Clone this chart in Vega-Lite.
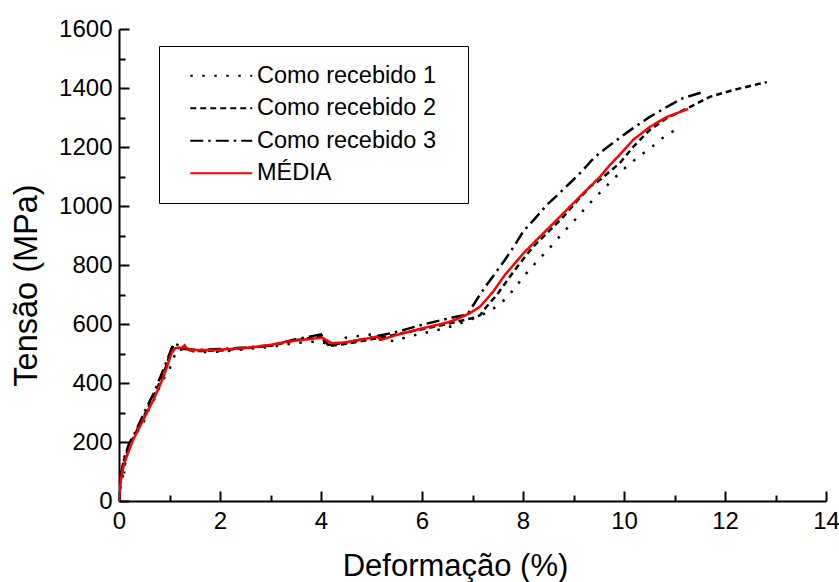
{
  "$schema": "https://vega.github.io/schema/vega-lite/v6.json",
  "width": 707,
  "height": 472,
  "autosize": {"type": "none"},
  "padding": {"left": 119, "top": 29, "right": 13, "bottom": 81},
  "background": "white",
  "config": {"view": {"stroke": null}, "font": "Liberation Sans"},
  "datasets": {
    "curves": [
      {"s": "Como recebido 1", "x": 0, "y": 0}, {"s": "Como recebido 1", "x": 0.03, "y": 50}, {"s": "Como recebido 1", "x": 0.09, "y": 94}, {"s": "Como recebido 1", "x": 0.18, "y": 184}, {"s": "Como recebido 1", "x": 0.34, "y": 229}, {"s": "Como recebido 1", "x": 0.48, "y": 263}, {"s": "Como recebido 1", "x": 0.61, "y": 320}, {"s": "Como recebido 1", "x": 0.73, "y": 354}, {"s": "Como recebido 1", "x": 0.84, "y": 404}, {"s": "Como recebido 1", "x": 0.98, "y": 438}, {"s": "Como recebido 1", "x": 1.08, "y": 484}, {"s": "Como recebido 1", "x": 1.15, "y": 515}, {"s": "Como recebido 1", "x": 1.3, "y": 512}, {"s": "Como recebido 1", "x": 1.6, "y": 505}, {"s": "Como recebido 1", "x": 2.0, "y": 506}, {"s": "Como recebido 1", "x": 2.5, "y": 515}, {"s": "Como recebido 1", "x": 3.0, "y": 522}, {"s": "Como recebido 1", "x": 3.45, "y": 535}, {"s": "Como recebido 1", "x": 3.8, "y": 540}, {"s": "Como recebido 1", "x": 4.0, "y": 540}, {"s": "Como recebido 1", "x": 4.2, "y": 527}, {"s": "Como recebido 1", "x": 4.48, "y": 553}, {"s": "Como recebido 1", "x": 4.74, "y": 559}, {"s": "Como recebido 1", "x": 5.0, "y": 565}, {"s": "Como recebido 1", "x": 5.2, "y": 545}, {"s": "Como recebido 1", "x": 5.45, "y": 542}, {"s": "Como recebido 1", "x": 5.7, "y": 556}, {"s": "Como recebido 1", "x": 5.96, "y": 566}, {"s": "Como recebido 1", "x": 6.22, "y": 576}, {"s": "Como recebido 1", "x": 6.48, "y": 587}, {"s": "Como recebido 1", "x": 6.73, "y": 600}, {"s": "Como recebido 1", "x": 6.99, "y": 617}, {"s": "Como recebido 1", "x": 7.25, "y": 636}, {"s": "Como recebido 1", "x": 7.51, "y": 662}, {"s": "Como recebido 1", "x": 7.71, "y": 695}, {"s": "Como recebido 1", "x": 7.91, "y": 738}, {"s": "Como recebido 1", "x": 8.12, "y": 783}, {"s": "Como recebido 1", "x": 8.35, "y": 825}, {"s": "Como recebido 1", "x": 8.58, "y": 868}, {"s": "Como recebido 1", "x": 8.81, "y": 913}, {"s": "Como recebido 1", "x": 9.04, "y": 955}, {"s": "Como recebido 1", "x": 9.27, "y": 1000}, {"s": "Como recebido 1", "x": 9.51, "y": 1043}, {"s": "Como recebido 1", "x": 9.77, "y": 1088}, {"s": "Como recebido 1", "x": 10.02, "y": 1129}, {"s": "Como recebido 1", "x": 10.28, "y": 1166}, {"s": "Como recebido 1", "x": 10.55, "y": 1200}, {"s": "Como recebido 1", "x": 10.79, "y": 1234}, {"s": "Como recebido 1", "x": 11.07, "y": 1264},

      {"s": "Como recebido 2", "x": 0, "y": 0}, {"s": "Como recebido 2", "x": 0.03, "y": 70}, {"s": "Como recebido 2", "x": 0.1, "y": 140}, {"s": "Como recebido 2", "x": 0.2, "y": 190}, {"s": "Como recebido 2", "x": 0.3, "y": 220}, {"s": "Como recebido 2", "x": 0.5, "y": 290}, {"s": "Como recebido 2", "x": 0.7, "y": 360}, {"s": "Como recebido 2", "x": 0.9, "y": 440}, {"s": "Como recebido 2", "x": 1.05, "y": 520}, {"s": "Como recebido 2", "x": 1.15, "y": 520}, {"s": "Como recebido 2", "x": 1.5, "y": 508}, {"s": "Como recebido 2", "x": 2.0, "y": 510}, {"s": "Como recebido 2", "x": 2.5, "y": 518}, {"s": "Como recebido 2", "x": 3.0, "y": 526}, {"s": "Como recebido 2", "x": 3.5, "y": 545}, {"s": "Como recebido 2", "x": 3.9, "y": 555}, {"s": "Como recebido 2", "x": 4.02, "y": 560}, {"s": "Como recebido 2", "x": 4.15, "y": 525}, {"s": "Como recebido 2", "x": 4.5, "y": 533}, {"s": "Como recebido 2", "x": 5.0, "y": 548}, {"s": "Como recebido 2", "x": 5.5, "y": 565}, {"s": "Como recebido 2", "x": 6.0, "y": 582}, {"s": "Como recebido 2", "x": 6.5, "y": 600}, {"s": "Como recebido 2", "x": 7.0, "y": 620}, {"s": "Como recebido 2", "x": 7.15, "y": 630}, {"s": "Como recebido 2", "x": 7.28, "y": 659}, {"s": "Como recebido 2", "x": 7.48, "y": 698}, {"s": "Como recebido 2", "x": 7.74, "y": 760}, {"s": "Como recebido 2", "x": 7.94, "y": 806}, {"s": "Como recebido 2", "x": 8.2, "y": 862}, {"s": "Como recebido 2", "x": 8.47, "y": 907}, {"s": "Como recebido 2", "x": 8.8, "y": 964}, {"s": "Como recebido 2", "x": 9.06, "y": 1015}, {"s": "Como recebido 2", "x": 9.33, "y": 1066}, {"s": "Como recebido 2", "x": 9.52, "y": 1088}, {"s": "Como recebido 2", "x": 9.92, "y": 1146}, {"s": "Como recebido 2", "x": 10.18, "y": 1200}, {"s": "Como recebido 2", "x": 10.51, "y": 1258}, {"s": "Como recebido 2", "x": 10.85, "y": 1298}, {"s": "Como recebido 2", "x": 11.31, "y": 1336}, {"s": "Como recebido 2", "x": 11.7, "y": 1370}, {"s": "Como recebido 2", "x": 12.16, "y": 1393}, {"s": "Como recebido 2", "x": 12.5, "y": 1407}, {"s": "Como recebido 2", "x": 12.83, "y": 1420},

      {"s": "Como recebido 3", "x": 0, "y": 0}, {"s": "Como recebido 3", "x": 0.03, "y": 80}, {"s": "Como recebido 3", "x": 0.1, "y": 145}, {"s": "Como recebido 3", "x": 0.2, "y": 195}, {"s": "Como recebido 3", "x": 0.3, "y": 225}, {"s": "Como recebido 3", "x": 0.5, "y": 300}, {"s": "Como recebido 3", "x": 0.7, "y": 370}, {"s": "Como recebido 3", "x": 0.9, "y": 455}, {"s": "Como recebido 3", "x": 1.05, "y": 520}, {"s": "Como recebido 3", "x": 1.1, "y": 535}, {"s": "Como recebido 3", "x": 1.3, "y": 515}, {"s": "Como recebido 3", "x": 1.6, "y": 512}, {"s": "Como recebido 3", "x": 2.0, "y": 515}, {"s": "Como recebido 3", "x": 2.5, "y": 520}, {"s": "Como recebido 3", "x": 3.0, "y": 528}, {"s": "Como recebido 3", "x": 3.5, "y": 548}, {"s": "Como recebido 3", "x": 3.8, "y": 558}, {"s": "Como recebido 3", "x": 4.0, "y": 565}, {"s": "Como recebido 3", "x": 4.1, "y": 528}, {"s": "Como recebido 3", "x": 4.5, "y": 537}, {"s": "Como recebido 3", "x": 5.0, "y": 555}, {"s": "Como recebido 3", "x": 5.47, "y": 572}, {"s": "Como recebido 3", "x": 6.06, "y": 600}, {"s": "Como recebido 3", "x": 6.65, "y": 624}, {"s": "Como recebido 3", "x": 6.9, "y": 632}, {"s": "Como recebido 3", "x": 7.0, "y": 660}, {"s": "Como recebido 3", "x": 7.15, "y": 700}, {"s": "Como recebido 3", "x": 7.28, "y": 732}, {"s": "Como recebido 3", "x": 7.45, "y": 772}, {"s": "Como recebido 3", "x": 7.64, "y": 817}, {"s": "Como recebido 3", "x": 7.84, "y": 868}, {"s": "Como recebido 3", "x": 8.01, "y": 915}, {"s": "Como recebido 3", "x": 8.24, "y": 958}, {"s": "Como recebido 3", "x": 8.47, "y": 1003}, {"s": "Como recebido 3", "x": 8.73, "y": 1045}, {"s": "Como recebido 3", "x": 8.93, "y": 1078}, {"s": "Como recebido 3", "x": 9.19, "y": 1122}, {"s": "Como recebido 3", "x": 9.36, "y": 1155}, {"s": "Como recebido 3", "x": 9.52, "y": 1180}, {"s": "Como recebido 3", "x": 9.86, "y": 1224}, {"s": "Como recebido 3", "x": 10.18, "y": 1264}, {"s": "Como recebido 3", "x": 10.51, "y": 1302}, {"s": "Como recebido 3", "x": 10.85, "y": 1336}, {"s": "Como recebido 3", "x": 11.17, "y": 1366}, {"s": "Como recebido 3", "x": 11.5, "y": 1383}, {"s": "Como recebido 3", "x": 11.54, "y": 1386},

      {"s": "MÉDIA", "x": 0, "y": 0}, {"s": "MÉDIA", "x": 0.02, "y": 45}, {"s": "MÉDIA", "x": 0.05, "y": 85}, {"s": "MÉDIA", "x": 0.1, "y": 125}, {"s": "MÉDIA", "x": 0.15, "y": 150}, {"s": "MÉDIA", "x": 0.28, "y": 207}, {"s": "MÉDIA", "x": 0.48, "y": 275}, {"s": "MÉDIA", "x": 0.68, "y": 342}, {"s": "MÉDIA", "x": 0.88, "y": 420}, {"s": "MÉDIA", "x": 1.04, "y": 501}, {"s": "MÉDIA", "x": 1.11, "y": 518}, {"s": "MÉDIA", "x": 1.25, "y": 520}, {"s": "MÉDIA", "x": 1.3, "y": 528}, {"s": "MÉDIA", "x": 1.33, "y": 520}, {"s": "MÉDIA", "x": 1.41, "y": 512}, {"s": "MÉDIA", "x": 1.93, "y": 512}, {"s": "MÉDIA", "x": 2.59, "y": 520}, {"s": "MÉDIA", "x": 2.99, "y": 529}, {"s": "MÉDIA", "x": 3.32, "y": 540}, {"s": "MÉDIA", "x": 3.72, "y": 548}, {"s": "MÉDIA", "x": 4.02, "y": 554}, {"s": "MÉDIA", "x": 4.21, "y": 535}, {"s": "MÉDIA", "x": 4.44, "y": 537}, {"s": "MÉDIA", "x": 4.77, "y": 546}, {"s": "MÉDIA", "x": 5.1, "y": 557}, {"s": "MÉDIA", "x": 5.2, "y": 547}, {"s": "MÉDIA", "x": 5.5, "y": 563}, {"s": "MÉDIA", "x": 6.0, "y": 585}, {"s": "MÉDIA", "x": 6.5, "y": 605}, {"s": "MÉDIA", "x": 6.7, "y": 617}, {"s": "MÉDIA", "x": 6.95, "y": 637}, {"s": "MÉDIA", "x": 7.15, "y": 659}, {"s": "MÉDIA", "x": 7.41, "y": 710}, {"s": "MÉDIA", "x": 7.64, "y": 766}, {"s": "MÉDIA", "x": 7.84, "y": 806}, {"s": "MÉDIA", "x": 8.01, "y": 840}, {"s": "MÉDIA", "x": 8.27, "y": 885}, {"s": "MÉDIA", "x": 8.6, "y": 941}, {"s": "MÉDIA", "x": 8.93, "y": 998}, {"s": "MÉDIA", "x": 9.26, "y": 1054}, {"s": "MÉDIA", "x": 9.52, "y": 1098}, {"s": "MÉDIA", "x": 9.72, "y": 1139}, {"s": "MÉDIA", "x": 9.95, "y": 1180}, {"s": "MÉDIA", "x": 10.18, "y": 1224}, {"s": "MÉDIA", "x": 10.51, "y": 1268}, {"s": "MÉDIA", "x": 10.85, "y": 1302}, {"s": "MÉDIA", "x": 11.27, "y": 1329}
    ]
  },
  "data": {"name": "curves"},
  "resolve": {"axis": {"x": "independent", "y": "independent"}},
  "layer": [
    {
      "mark": {"type": "line", "opacity": 0, "clip": true},
      "encoding": {
        "x": {
          "field": "x", "type": "quantitative",
          "scale": {"domain": [0, 14], "nice": false, "zero": false},
          "axis": {
            "orient": "bottom", "title": null, "labels": false, "domain": false, "grid": false,
            "values": [1, 3, 5, 7, 9, 11, 13],
            "tickSize": -6, "tickWidth": 2, "tickColor": "black"
          }
        },
        "y": {
          "field": "y", "type": "quantitative",
          "scale": {"domain": [0, 1600], "nice": false},
          "axis": {
            "orient": "left", "title": null, "labels": false, "domain": false, "grid": false,
            "values": [100, 300, 500, 700, 900, 1100, 1300, 1500],
            "tickSize": -6, "tickWidth": 2, "tickColor": "black"
          }
        },
        "detail": {"field": "s"}
      }
    },
    {
      "mark": {"type": "line", "strokeWidth": 2.5, "strokeCap": "butt", "clip": true},
      "encoding": {
        "x": {
          "field": "x", "type": "quantitative",
          "axis": {
            "orient": "bottom",
            "title": "Deformação (%)",
            "values": [0, 2, 4, 6, 8, 10, 12, 14],
            "tickSize": -10, "tickWidth": 2, "tickColor": "black",
            "domainColor": "black", "domainWidth": 2,
            "grid": false,
            "labelFont": "Liberation Sans", "labelFontSize": 24, "labelColor": "black",
            "labelPadding": 18.5, "labelFlush": false, "labelOverlap": false,
            "titleFont": "Liberation Sans", "titleFontSize": 31, "titleFontWeight": "normal", "titleColor": "black",
            "titleX": 336, "titleY": 74, "titleBaseline": "alphabetic", "titleAnchor": null
          }
        },
        "y": {
          "field": "y", "type": "quantitative",
          "axis": {
            "orient": "left",
            "title": "Tensão (MPa)",
            "values": [0, 200, 400, 600, 800, 1000, 1200, 1400, 1600],
            "format": "d",
            "tickSize": -10, "tickWidth": 2, "tickColor": "black",
            "domainColor": "black", "domainWidth": 2,
            "grid": false,
            "labelFont": "Liberation Sans", "labelFontSize": 24, "labelColor": "black",
            "labelPadding": 17, "labelFlush": false, "labelOverlap": false,
            "titleFont": "Liberation Sans", "titleFontSize": 32.5, "titleFontWeight": "normal", "titleColor": "black",
            "titleX": -83, "titleY": 256, "titleAngle": -90, "titleBaseline": "alphabetic", "titleAnchor": null
          }
        },
        "color": {
          "field": "s", "type": "nominal",
          "scale": {"domain": ["Como recebido 1", "Como recebido 2", "Como recebido 3", "MÉDIA"], "range": ["#000000", "#000000", "#000000", "#ff0000"]},
          "legend": {
            "orient": "none", "legendX": 40, "legendY": 17,
            "title": " ", "titleOrient": "right", "titlePadding": 14, "titleFontSize": 2,
            "strokeColor": "black", "fillColor": "white", "padding": 18,
            "symbolType": "M-4,0H4", "symbolSize": 240, "symbolStrokeWidth": 2, "symbolOffset": 32.5,
            "labelFont": "Liberation Sans", "labelFontSize": 23.5, "labelColor": "black", "labelOffset": 24, "labelLimit": 400,
            "rowPadding": 7.5
          }
        },
        "strokeDash": {
          "field": "s", "type": "nominal",
          "scale": {"domain": ["Como recebido 1", "Como recebido 2", "Como recebido 3", "MÉDIA"], "range": [[2.5, 9.5], [6, 4], [13, 5, 2.5, 5], [1, 0]]},
          "legend": {
            "orient": "none", "legendX": 40, "legendY": 17,
            "title": " ", "titleOrient": "right", "titlePadding": 14, "titleFontSize": 2,
            "strokeColor": "black", "fillColor": "white", "padding": 18,
            "symbolType": "M-4,0H4", "symbolSize": 240, "symbolStrokeWidth": 2, "symbolOffset": 32.5,
            "labelFont": "Liberation Sans", "labelFontSize": 23.5, "labelColor": "black", "labelOffset": 24, "labelLimit": 400,
            "rowPadding": 7.5
          }
        }
      }
    }
  ]
}
